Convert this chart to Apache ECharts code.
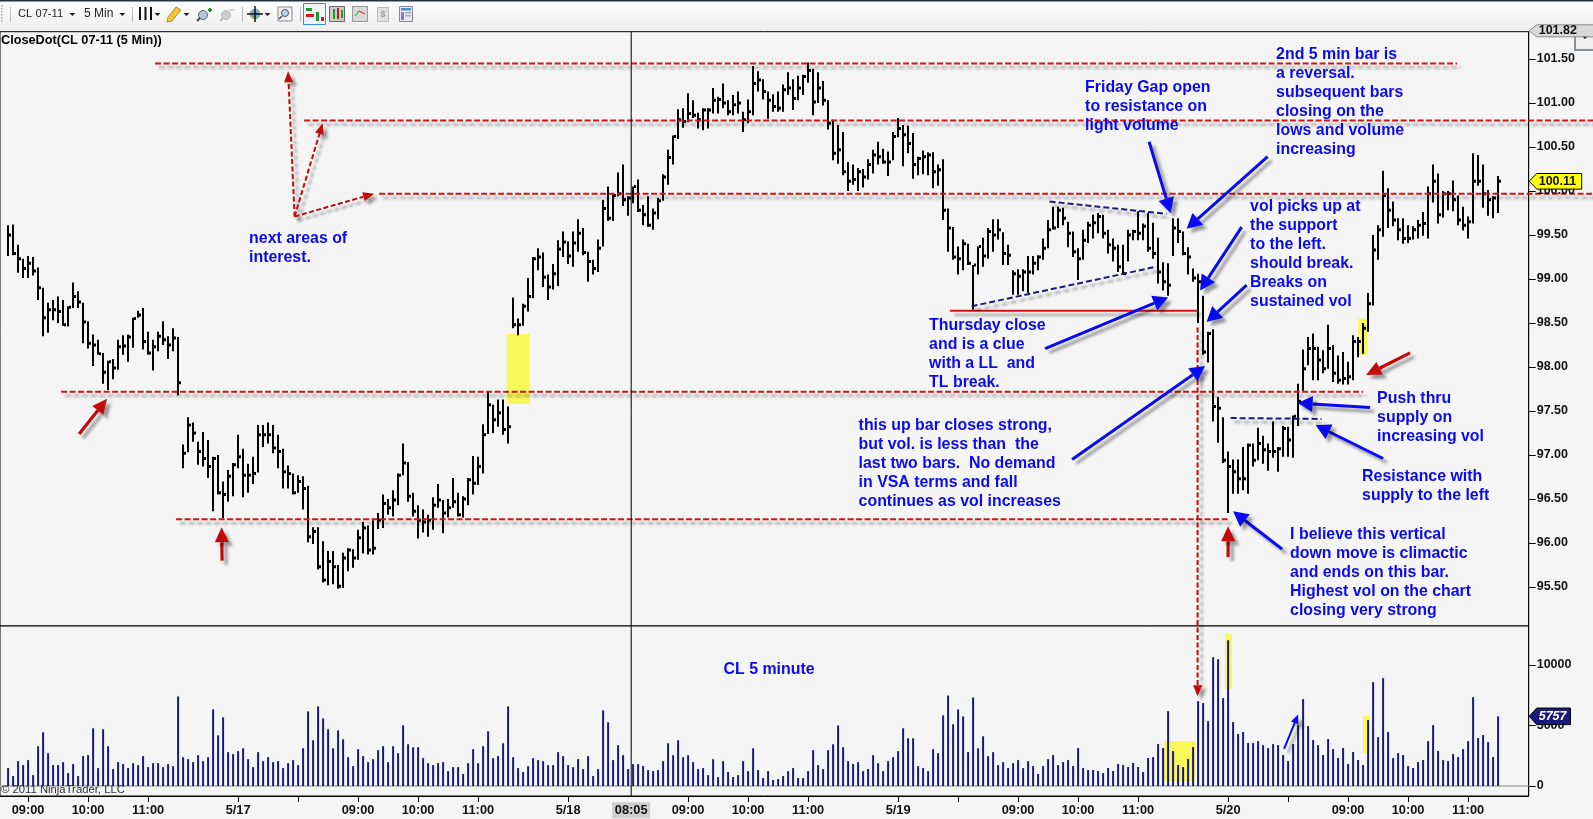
<!DOCTYPE html>
<html><head><meta charset="utf-8">
<script src="https://cdn.jsdelivr.net/npm/echarts@6/dist/echarts.min.js"></script>
<style>html,body{margin:0;padding:0;background:#f5f5f5;overflow:hidden}#c{width:1593px;height:819px}</style>
</head><body><div id="c"></div>
<script>
const barHigh=[99.61,99.62,99.39,99.23,99.26,99.25,99.13,98.90,98.73,98.76,
98.80,98.76,98.69,98.96,98.86,98.73,98.52,98.37,98.31,98.16,
98.07,98.09,98.31,98.36,98.37,98.56,98.64,98.67,98.40,98.31,
98.40,98.52,98.35,98.44,98.34,
97.12,97.43,97.37,97.15,97.26,97.17,96.98,97.00,96.70,96.83,96.91,97.23,97.07,96.90,96.98,
97.34,97.34,97.37,97.34,97.23,97.07,96.88,96.79,96.77,96.76,
96.65,96.18,96.18,96.02,95.91,95.91,95.75,95.89,95.94,95.93,
96.15,96.24,96.20,96.26,96.34,96.55,96.50,96.60,96.79,97.13,
96.92,96.57,96.43,96.38,96.32,96.52,96.67,96.49,96.50,96.74,
96.57,96.53,96.74,96.99,96.98,97.35,97.72,97.57,97.63,97.63,97.55,
98.79,98.55,98.72,99.01,99.25,99.35,99.30,99.05,99.17,99.44,
99.54,99.43,99.54,99.68,99.58,99.31,99.22,99.45,99.90,100.05,
99.97,100.21,100.30,99.94,100.05,100.13,99.84,99.94,99.80,99.92,
100.19,100.47,100.63,100.93,100.94,101.11,101.03,100.89,100.94,100.94,
101.17,101.07,101.22,101.03,101.09,101.13,100.90,101.04,101.42,101.36,
101.27,101.13,101.10,101.13,101.21,101.35,101.27,101.31,101.32,101.46,
101.39,101.35,101.25,101.03,100.81,100.75,100.67,100.33,100.30,100.26,
100.25,100.36,100.47,100.56,100.48,100.45,100.67,100.83,100.75,100.74,
100.66,100.39,100.46,100.44,100.44,100.30,100.36,
99.80,99.59,99.37,99.45,99.40,99.16,99.37,99.47,99.58,99.68,
99.68,99.53,99.39,99.10,99.11,99.11,99.26,99.26,99.27,99.46,
99.67,99.82,99.82,99.81,99.65,99.54,99.35,99.56,99.65,99.73,
99.75,99.73,99.56,99.46,99.39,99.39,99.56,99.56,99.77,99.63,
99.75,99.64,99.47,99.19,99.18,99.69,99.69,99.54,99.36,99.12,
99.06,98.81,98.40,98.43,97.66,97.43,97.04,96.95,96.95,97.09,
97.13,97.13,97.31,97.22,97.13,97.38,97.09,97.33,97.32,97.45,
97.81,98.20,98.34,98.38,98.23,98.19,98.48,98.25,98.13,98.17,
98.06,98.36,98.34,98.50,98.84,99.50,99.61,100.23,100.03,99.88,
99.69,99.69,99.61,99.60,99.67,99.76,100.05,100.30,100.20,100.00,
100.00,100.12,99.95,99.82,99.71,100.43,100.41,100.30,100.01,99.94,100.17];
const barLow=[99.26,99.27,99.07,99.01,99.01,99.04,98.76,98.35,98.39,98.53,
98.50,98.47,98.46,98.67,98.67,98.27,98.21,98.01,98.14,97.81,
97.74,97.86,97.97,98.14,98.06,98.22,98.56,98.20,98.14,97.96,
98.18,98.25,98.09,98.18,97.68,
96.85,97.03,97.15,96.89,96.87,96.74,96.36,96.55,96.28,96.47,96.53,96.85,96.52,96.57,96.67,
96.80,97.09,97.13,97.02,96.85,96.62,96.62,96.55,96.57,96.38,
96.01,95.99,95.70,95.55,95.52,95.53,95.48,95.49,95.68,95.72,
95.81,95.88,95.87,95.87,96.16,96.17,96.32,96.30,96.43,96.77,
96.47,96.30,96.05,96.12,96.07,96.15,96.40,96.11,96.29,96.40,
96.30,96.29,96.43,96.55,96.66,96.79,97.24,97.25,97.32,97.23,97.13,
98.44,98.36,98.47,98.63,98.78,99.10,98.91,98.76,98.88,98.92,
99.25,99.17,99.14,99.31,99.27,98.97,99.05,99.08,99.37,99.66,
99.66,99.94,99.83,99.72,99.86,99.76,99.61,99.59,99.56,99.68,
99.89,100.07,100.30,100.59,100.72,100.78,100.83,100.71,100.69,100.71,
100.88,100.88,100.94,100.86,100.86,100.88,100.67,100.77,100.86,101.13,
101.04,100.82,100.90,100.90,100.90,101.09,100.92,101.03,101.09,101.23,
100.86,101.00,100.97,100.70,100.35,100.31,100.18,100.00,100.07,100.00,
100.04,100.13,100.20,100.30,100.31,100.17,100.35,100.61,100.28,100.43,
100.14,100.18,100.19,100.18,100.03,100.06,99.67,
99.31,99.22,99.05,99.10,99.16,98.65,99.05,99.14,99.23,99.31,
99.45,99.16,99.16,98.82,98.82,98.86,98.84,99.05,99.10,99.22,
99.35,99.56,99.58,99.61,99.36,99.25,98.99,99.22,99.41,99.46,
99.52,99.46,99.29,99.20,99.08,99.05,99.20,99.44,99.44,99.44,
99.31,99.23,98.95,98.87,98.81,99.26,99.41,99.27,99.05,98.97,
98.50,98.14,98.05,97.38,97.14,96.91,96.34,96.56,96.56,96.60,
96.56,96.87,96.94,96.90,96.82,96.97,96.81,96.98,96.98,96.97,
97.33,97.73,98.02,97.85,97.85,97.93,97.98,97.83,97.81,97.80,
97.80,97.85,98.11,98.15,98.40,98.70,99.22,99.48,99.58,99.60,
99.44,99.40,99.41,99.45,99.46,99.49,99.46,99.87,99.63,99.70,
99.78,99.77,99.61,99.55,99.46,99.63,100.06,99.81,99.72,99.69,99.75];
const barClose=[99.50,99.29,99.23,99.12,99.18,99.09,98.90,98.56,98.65,98.65,
98.63,98.48,98.68,98.80,98.74,98.51,98.27,98.25,98.15,97.94,
98.06,97.99,98.23,98.24,98.34,98.55,98.59,98.29,98.16,98.23,
98.35,98.31,98.25,98.33,97.82,
97.02,97.34,97.25,97.04,96.96,96.87,96.96,96.57,96.55,96.76,96.89,96.98,96.77,96.77,96.79,
97.23,97.23,97.23,97.08,97.04,96.81,96.79,96.57,96.70,96.62,
96.07,96.13,95.73,95.58,95.79,95.73,95.51,95.83,95.92,95.83,
96.06,96.17,95.92,95.94,96.26,96.45,96.40,96.49,96.77,96.91,
96.53,96.36,96.26,96.24,96.26,96.43,96.49,96.34,96.40,96.47,
96.32,96.50,96.72,96.68,96.87,97.23,97.57,97.40,97.48,97.29,97.32,
98.48,98.48,98.69,98.80,99.23,99.25,99.02,98.91,99.06,99.34,
99.42,99.26,99.41,99.52,99.30,99.20,99.12,99.35,99.80,99.69,
99.95,99.97,99.90,99.92,100.05,99.78,99.73,99.61,99.75,99.89,
100.16,100.38,100.62,100.81,100.79,100.88,100.86,100.81,100.92,100.92,
101.03,101.04,101.00,100.90,100.98,101.00,100.81,100.90,101.22,101.26,
101.13,101.03,100.96,100.94,101.15,101.17,101.05,101.17,101.30,101.37,
101.01,101.17,101.03,100.77,100.43,100.47,100.22,100.11,100.13,100.22,
100.16,100.30,100.41,100.39,100.33,100.33,100.62,100.71,100.64,100.54,
100.30,100.37,100.39,100.41,100.22,100.24,99.78,
99.58,99.25,99.23,99.40,99.18,99.16,99.37,99.26,99.54,99.50,
99.56,99.29,99.27,99.06,99.03,99.08,99.08,99.18,99.25,99.35,
99.56,99.58,99.78,99.69,99.52,99.31,99.23,99.44,99.61,99.64,
99.71,99.52,99.39,99.35,99.14,99.06,99.50,99.54,99.52,99.60,
99.35,99.29,99.08,98.97,98.93,99.58,99.54,99.29,99.25,99.01,
98.97,98.17,98.38,97.55,97.53,96.94,96.87,96.81,96.73,96.73,
97.11,96.94,97.13,97.06,97.04,97.04,97.07,97.30,97.17,97.44,
97.61,97.98,98.21,98.21,98.08,97.98,98.21,97.93,97.85,97.87,
97.89,98.29,98.29,98.44,98.72,99.33,99.56,99.95,99.78,99.67,
99.56,99.46,99.46,99.56,99.61,99.63,99.97,100.11,99.73,99.97,
99.97,99.90,99.67,99.61,99.65,100.11,100.11,99.97,99.90,99.92,100.11];
const volume=[1480,820,2055,1725,2140,900,3290,4440,2710,1725,1725,1970,1070,1810,820,2470,2550,4770,1480,4690,3290,1400,1970,1810,1480,1890,1725,2470,1560,1890,1890,1560,1810,1640,7400,2380,2220,1970,2550,2055,2380,6330,4190,5670,2800,2630,2880,3120,2220,1560,2800,2055,2380,1970,2055,1480,1890,2140,1725,3120,6165,3780,6580,5590,4690,3120,4600,3860,2380,1640,3040,2470,1970,2220,2960,3290,1970,3290,2710,5010,3450,3205,3205,2300,1890,1725,1890,1970,1230,1560,1560,990,1890,3040,1890,3290,4520,2300,2470,3535,6580,2380,1480,1150,1640,
2300,2140,2055,1725,1725,2800,2470,1725,1560,2220,1400,2470,820,1400,6250,5260,2140,3370,2550,1400,1810,1810,1640,1315,1230,1315,2055,3535,2550,3780,2380,2550,1970,1400,1480,900,2220,740,2055,1150,740,900,2055,1230,3120,1315,660,1230,490,575,820,1230,1480,660,660,1230,2960,1725,1400,2960,3450,5010,3205,2055,1810,1970,1230,1400,2550,1890,1230,2055,2380,2880,4770,3945,3945,1640,1480,1230,3040,2710,5840,7480,5100,6330,5750,2800,7315,3120,4110,2470,2800,1725,1970,1480,1890,2140,1480,2055,1640,990,1640,2220,2550,1725,
1980,2145,1650,3135,1485,1320,1320,1240,1070,1485,1240,1815,1730,1570,1900,1570,1155,2310,2390,3465,3135,6190,2890,1730,1570,2230,3220,7010,6850,5360,10640,10480,7260,12045,5280,4290,4455,3550,3550,3710,3380,3135,3465,3380,2560,2060,3465,5030,7180,4950,3795,3380,2560,3880,3050,2310,3135,1815,2805,2145,1730,5445,8580,4040,8910,4455,2310,2720,2560,1650,1485,1980,2145,3710,5030,2890,2145,2060,2640,2390,3050,3710,7340,3960,4210,3630,2390,5757];
const xTickIndex=[4,16,28,46,58,70,82,94,112,136,148,160,178,190,202,214,226,244,256,268,280,292];
const xTickLabels=["09:00","10:00","11:00","5/17","","09:00","10:00","11:00","5/18","09:00","10:00","11:00","5/19","","09:00","10:00","11:00","5/20","","09:00","10:00","11:00"];
const crossIndex=124.62, crossLabel="08:05";
const priceTicks=[95.5,96,96.5,97,97.5,98,98.5,99,99.5,100,100.5,101,101.5];
const volumeTicks=[0,5000,10000];
// level lines: [from bar, to bar, price]
const levelLines=[[29.4,289.8,101.45],[59.2,317,100.80],[74.2,317,99.97],[10.6,271,97.72],[33.6,244.4,96.27]];
const thursdayClose=[188.4,237.9,98.64];
const trendLines=[[208.3,99.88,231.7,99.74],[192.7,98.69,229.7,99.14],[244.5,97.42,262.7,97.41]];
const thinRedArrows=[[57.3,99.71,56.0,101.36],[57.3,99.71,62.9,100.77],[57.3,99.71,73.2,99.97],[237.9,98.45,237.9,94.26]];
const redArrows=[[14.2,97.24,19.8,97.64],[42.8,95.80,42.7,96.18],[244,95.84,244,96.19],[280.4,98.16,271.6,97.91]];
const blueArrows=[[228.2,100.56,232.5,99.75],[251.9,100.39,235.7,99.57],[246.7,99.59,238.4,98.87],[247.7,98.93,239.7,98.51],[207.4,98.21,232.0,98.79],[212.8,96.95,239.4,98.01],[272.4,97.54,257.9,97.59],[275,96.96,261.5,97.34],[254.8,95.93,245,96.36]];
const smallBlueArrows=[[255.2,93.66,258,94.05]];
const priceHighlights=[[99.7,104.4,98.375,97.58],[270,271.9,98.55,98.14]];
const volumeHighlights=[[243.4,244.8,12550,8010],[231.2,237.4,3720,410],[271,272.3,5790,2730]];
const notes=[
[48.2,99.46,"next areas of\ninterest."],
[253.6,101.55,"2nd 5 min bar is\na reversal.\nsubsequent bars\nclosing on the\nlows and volume\nincreasing"],
[215.4,101.17,"Friday Gap open\nto resistance on\nlight volume"],
[248.4,99.82,"vol picks up at\nthe support\nto the left.\nshould break.\nBreaks on\nsustained vol"],
[184.2,98.47,"Thursday close\nand is a clue\nwith a LL  and\nTL break."],
[170.1,97.33,"this up bar closes strong,\nbut vol. is less than  the\nlast two bars.  No demand\nin VSA terms and fall\ncontinues as vol increases"],
[273.8,97.64,"Push thru\nsupply on\nincreasing vol"],
[270.8,96.75,"Resistance with\nsupply to the left"],
[256.4,96.10,"I believe this vertical\ndown move is climactic\nand ends on this bar.\nHighest vol on the chart\nclosing very strong"],
[143.1,94.56,"CL 5 minute"]];
const lastPrice=100.11, topPrice=101.82, lastVolume=5757;

const FONT='"Liberation Sans",Arial,sans-serif';
const RED='#cf1515', DARKRED='#c40a0a', BLUE='#0a0af0', NAVY='#1a1a7c', YELLOW='#f8f85a', BG='#f5f5f5';
const XMIN=-1.62, XMAX=304.12;
const AXFONT='bold 12.5px '+FONT;
const shadow={shadowBlur:3,shadowColor:'rgba(0,0,0,.38)',shadowOffsetX:4,shadowOffsetY:4};

function arrow(api,a,color,w,headL,headW,dash){
  const p0=api.coord([a[0],a[1]]),p1=api.coord([a[2],a[3]]);
  const dx=p1[0]-p0[0],dy=p1[1]-p0[1],L=Math.hypot(dx,dy),ux=dx/L,uy=dy/L;
  const b=[p1[0]-ux*headL,p1[1]-uy*headL];
  return [
   {type:'line',shape:{x1:p0[0],y1:p0[1],x2:b[0],y2:b[1]},style:Object.assign({stroke:color,lineWidth:w,lineDash:dash||null,fill:null},shadow)},
   {type:'polygon',shape:{points:[p1,[b[0]-uy*headW/2,b[1]+ux*headW/2],[b[0]+uy*headW/2,b[1]-ux*headW/2]]},style:Object.assign({fill:color},shadow)}
  ];
}
function rectOf(api,r){
  const a=api.coord([r[0],r[2]]),b=api.coord([r[1],r[3]]);
  return {type:'rect',shape:{x:a[0],y:a[1],width:b[0]-a[0],height:b[1]-a[1]},style:{fill:YELLOW}};
}
function one(render){return function(params,api){return params.dataIndex===0?{type:'group',children:render(api)}:null;};}
const ohlc=barHigh.map((h,i)=>[i,h,barLow[i],barClose[i]]);
const anchor=[[XMIN,barClose[0]]];

const option={
 animation:false,
 backgroundColor:BG,
 textStyle:{fontFamily:FONT},
 grid:[
  {left:0,top:31.7,width:1528.7,height:594.3,show:true,borderColor:'#000',borderWidth:1,backgroundColor:BG},
  {left:0,top:626,width:1528.7,height:170,show:true,borderColor:'#000',borderWidth:1,backgroundColor:BG}
 ],
 xAxis:[
  {type:'value',gridIndex:0,min:XMIN,max:XMAX,axisLabel:{show:false},axisTick:{show:false},splitLine:{show:false},axisLine:{show:false}},
  {type:'value',gridIndex:1,min:XMIN,max:XMAX,splitLine:{show:false},axisLine:{show:true,onZero:false,lineStyle:{color:'#000'}},
   axisTick:{show:true,length:6,customValues:xTickIndex,lineStyle:{color:'#000'}},
   axisLabel:{show:true,customValues:xTickIndex,margin:7.5,color:'#111',fontFamily:FONT,fontSize:12.8,fontWeight:'bold',hideOverlap:false,showMinLabel:true,showMaxLabel:true,
    formatter:v=>{ const k=xTickIndex.indexOf(Math.round(v)); return k>=0?xTickLabels[k]:''; }}}
 ],
 yAxis:[
  {type:'value',gridIndex:0,position:'right',min:95.057,max:101.81,splitLine:{show:false},axisLine:{show:true,onZero:false,lineStyle:{color:'#000'}},
   axisTick:{show:true,length:7,customValues:priceTicks,lineStyle:{color:'#000'}},
   axisLabel:{show:true,customValues:priceTicks.filter(v=>v!==100),margin:8,color:'#111',fontFamily:FONT,fontSize:12.5,fontWeight:'bold',formatter:v=>v.toFixed(2)}},
  {type:'value',gridIndex:1,position:'right',min:-826,max:13223,splitLine:{show:false},axisLine:{show:true,onZero:false,lineStyle:{color:'#000'}},
   axisTick:{show:true,length:7,customValues:volumeTicks,lineStyle:{color:'#000'}},
   axisLabel:{show:true,customValues:volumeTicks.filter(v=>v!==5000),margin:8,color:'#111',fontFamily:FONT,fontSize:12.5,fontWeight:'bold',formatter:v=>String(v)}}
 ],
 series:[
  {name:'highlights',type:'custom',xAxisIndex:0,yAxisIndex:0,clip:false,silent:true,z:1,data:anchor,
   renderItem:one(api=>priceHighlights.map(r=>rectOf(api,r)))},
  {name:'volumeHighlights',type:'custom',xAxisIndex:1,yAxisIndex:1,clip:false,silent:true,z:1,data:[[XMIN,0]],
   renderItem:one(api=>{const a=api.coord([XMIN,0]),b=api.coord([XMAX,0]);
     return volumeHighlights.map(r=>rectOf(api,r)).concat([{type:'line',shape:{x1:a[0],y1:a[1],x2:b[0],y2:b[1]},style:{stroke:'#aaa',lineWidth:1.5}}]);})},
  {name:'CL 07-11',type:'custom',xAxisIndex:0,yAxisIndex:0,clip:false,silent:true,z:3,data:ohlc,encode:{x:0,y:[1,2,3]},
   renderItem:(params,api)=>{
     const x=Math.round(api.coord([api.value(0),0])[0]);
     const yh=api.coord([0,api.value(1)])[1],yl=api.coord([0,api.value(2)])[1],yc=api.coord([0,api.value(3)])[1];
     return {type:'group',children:[
       {type:'rect',shape:{x:x-1,y:yh,width:2,height:yl-yh},style:{fill:'#000'}},
       {type:'rect',shape:{x:x+1,y:yc-1.5,width:2,height:3},style:{fill:'#000'}}]};
   }},
  {name:'Volume',type:'bar',xAxisIndex:1,yAxisIndex:1,barWidth:2,itemStyle:{color:NAVY},z:3,silent:true,data:volume.map((v,i)=>[i,v])},
  {name:'annotations',type:'custom',xAxisIndex:0,yAxisIndex:0,clip:false,silent:true,z:4,data:anchor,
   renderItem:one(api=>{
     let out=[];
     const hline=(l,stroke,w,dash)=>{const a=api.coord([l[0],l[2]]),b=api.coord([l[1],l[2]]);
       return {type:'line',shape:{x1:a[0],y1:a[1],x2:b[0],y2:b[1]},style:Object.assign({stroke:stroke,lineWidth:w,lineDash:dash},shadow)};};
     levelLines.forEach(l=>out.push(hline(l,RED,2,[6,2.5])));
     out.push(hline(thursdayClose,RED,2,null));
     trendLines.forEach(t=>{const a=api.coord([t[0],t[1]]),b=api.coord([t[2],t[3]]);
       out.push({type:'line',shape:{x1:a[0],y1:a[1],x2:b[0],y2:b[1]},style:Object.assign({stroke:NAVY,lineWidth:2,lineDash:[6,3]},shadow)});});
     thinRedArrows.forEach(a=>out=out.concat(arrow(api,a,DARKRED,2,11,9,[5,2.5])));
     redArrows.forEach(a=>out=out.concat(arrow(api,a,DARKRED,3.2,15,14)));
     blueArrows.forEach(a=>out=out.concat(arrow(api,a,BLUE,3,15,16)));
     smallBlueArrows.forEach(a=>out=out.concat(arrow(api,a,BLUE,2,9,8)));
     notes.forEach(n=>{const p=api.coord([n[0],n[1]]);
       n[2].split('\n').forEach((s,k)=>out.push({type:'text',x:p[0],y:p[1]+k*19,
         style:{text:s,fill:BLUE,font:'bold 15.9px '+FONT,textAlign:'left',textVerticalAlign:'middle',verticalAlign:'middle'}}));});
     // crosshair with its time label
     const c0=api.coord([crossIndex,101.81]),c1=api.coord([crossIndex,93.125]);
     out.push({type:'line',shape:{x1:c0[0],y1:c0[1],x2:c1[0],y2:c1[1]},style:{stroke:'#000',lineWidth:1}});
     out.push({type:'rect',shape:{x:c1[0]-19,y:c1[1]+6.3,width:38,height:16},style:{fill:'#cfcfcf'}});
     out.push({type:'text',x:c1[0],y:c1[1]+14.3,style:{text:crossLabel,fill:'#111',font:'bold 12.8px '+FONT,textAlign:'center',textVerticalAlign:'middle',verticalAlign:'middle'}});
     return out;
   })},
  {name:'priceTags',type:'custom',xAxisIndex:0,yAxisIndex:0,clip:false,silent:true,z:6,data:anchor,
   renderItem:one(api=>{
     const tag=(p,fill,stroke,txt,color,right,h,font,tx)=>{const c=api.coord([XMAX,p]);const x=c[0],y=c[1];
       return [{type:'polygon',shape:{points:[[x+.5,y],[x+8,y-h],[right,y-h],[right,y+h],[x+8,y+h]]},style:{fill:fill,stroke:stroke,lineWidth:1}},
               {type:'text',x:x+tx,y:y,style:{text:txt,fill:color,font:font,textAlign:'left',verticalAlign:'middle',textVerticalAlign:'middle'}}];};
     const hid=api.coord([XMAX,100]);
     return [{type:'text',x:hid[0]+8,y:hid[1],style:{text:'100.00',fill:'#111',font:AXFONT,textAlign:'left',verticalAlign:'middle',textVerticalAlign:'middle'}}]
       .concat(tag(topPrice,'#d9d9d9','#888',topPrice.toFixed(2),'#111',1600,6,AXFONT,10))
       .concat(tag(lastPrice,'#ffff00','#000',lastPrice.toFixed(2),'#111',1581.7,7.8,AXFONT,10));
   })},
  {name:'volumeTag',type:'custom',xAxisIndex:1,yAxisIndex:1,clip:false,silent:true,z:6,data:[[XMAX,lastVolume]],
   renderItem:one(api=>{const c=api.coord([XMAX,lastVolume]),x=c[0],y=c[1],h=8.3,hid=api.coord([XMAX,5000]);
     return [{type:'text',x:hid[0]+8,y:hid[1],style:{text:'5000',fill:'#111',font:AXFONT,textAlign:'left',verticalAlign:'middle',textVerticalAlign:'middle'}},
             {type:'polygon',shape:{points:[[x+.5,y],[x+8,y-h],[1570.5,y-h],[1570.5,y+h],[x+8,y+h]]},style:{fill:NAVY,stroke:'#000',lineWidth:1}},
             {type:'text',x:x+10,y:y,style:{text:String(lastVolume),fill:'#fff',font:'italic bold 12.5px '+FONT,textAlign:'left',verticalAlign:'middle',textVerticalAlign:'middle'}}];
   })}
 ],
 graphic:{elements:(function(){
  const g=[];
  const tri=(x,y)=>g.push({type:'polygon',shape:{points:[[x-3,y],[x+3,y],[x,y+3]]},style:{fill:'#222'}});
  const rect=(x,y,w,h,fill,stroke,lw)=>g.push({type:'rect',shape:{x,y,width:w,height:h},style:{fill:fill,stroke:stroke||null,lineWidth:lw||1}});
  const ln=(x1,y1,x2,y2,c,w)=>g.push({type:'line',shape:{x1,y1,x2,y2},style:{stroke:c,lineWidth:w||1}});
  g.push({type:'rect',shape:{x:0,y:0,width:1593,height:31},style:{fill:{type:'linear',x:0,y:0,x2:0,y2:1,colorStops:[{offset:0,color:'#ffffff'},{offset:1,color:'#eeeeee'}]}}});
  rect(0,0,1593,1.5,'#26323e');
  for(let y=5;y<22;y+=3) rect(1,y,1.5,1.5,'#aaa');
  ln(10.5,7,10.5,22,'#bbb');
  g.push({type:'text',x:18,y:14,style:{text:'CL 07-11',fill:'#222',font:'11.2px '+FONT,verticalAlign:'middle',textVerticalAlign:'middle'}});
  tri(72.3,13);
  g.push({type:'text',x:84,y:14,style:{text:'5 Min',fill:'#222',font:'12px '+FONT,verticalAlign:'middle',textVerticalAlign:'middle'}});
  tri(122.3,13); ln(132.5,7,132.5,22,'#bbb');
  [140,145.5,151].forEach(x=>rect(x-1,7,2,13,'#111'));
  tri(157.5,13);
  g.push({type:'polygon',shape:{points:[[176,7],[181,10],[172,21],[167,22],[168,17]]},style:{fill:'#f3c93a',stroke:'#8a6a14',lineWidth:.7}});
  tri(186.5,13);
  g.push({type:'circle',shape:{cx:203,cy:15,r:4.5},style:{fill:'#b9c4d0',stroke:'#667',lineWidth:1}});
  ln(200,18,197,21,'#444',2); ln(208,10,212,10,'#12a012',2); ln(210,8,210,12,'#12a012',2);
  g.push({type:'circle',shape:{cx:226,cy:15,r:4.5},style:{fill:'#ccc',stroke:'#bbb',lineWidth:1}});
  ln(223,18,220,21,'#bbb',2); ln(229,10,235,10,'#ccc',1.5);
  ln(242.5,7,242.5,22,'#bbb');
  g.push({type:'circle',shape:{cx:255,cy:14,r:5},style:{fill:'#6fa8dc',stroke:'#c9b23a',lineWidth:1}});
  ln(247,14,263,14,'#111',1.5); ln(255,6,255,22,'#111',1.5);
  tri(267.5,13);
  rect(278,7,14,14,'#f4f4f4','#888');
  g.push({type:'circle',shape:{cx:285,cy:13,r:3.5},style:{fill:'#bcd3ea',stroke:'#556',lineWidth:1}});
  ln(282,16,279,19,'#445',1.5);
  ln(300.5,7,300.5,22,'#bbb');
  rect(303.5,3.5,22,21,'#f0f6fc','#3a8fdc',1);
  rect(306,8,6,3,'#1c9a2a'); rect(306,14,8,3,'#d21818'); rect(316,12,3,9,'#1c9a2a'); rect(321,17,3,4,'#d21818');
  rect(329.5,6.5,15,15,'#ccc','#666');
  rect(333,9,2,10,'#1c9a2a'); rect(337,8,2,11,'#d21818'); rect(341,10,2,8,'#1c9a2a');
  rect(352.5,6.5,15,15,'#d8d8d8','#999');
  ln(355,16,359,11,'#1c9a2a',1); ln(359,11,365,14,'#d21818',1);
  rect(377.5,7.5,11,14,'#e2e2e2','#bbb');
  g.push({type:'text',x:383,y:15,style:{text:'$',fill:'#999',font:'bold 9px '+FONT,textAlign:'center',verticalAlign:'middle',textVerticalAlign:'middle'}});
  rect(399.5,6.5,13,15,'#e8e8f4','#889');
  rect(401,8,10,2.5,'#4a90d0'); rect(401,12,3,8,'#8a7ad0'); rect(405,12,6,1.5,'#aaa'); rect(405,15,6,1.5,'#aaa');
  g.push({type:'text',x:1,y:40.7,z:50,style:{text:'CloseDot(CL 07-11 (5 Min))',fill:'#000',font:'bold 12.7px '+FONT,verticalAlign:'middle',textVerticalAlign:'middle'}});
  g.push({type:'text',x:1,y:790.3,z:50,style:{text:'© 2011 NinjaTrader, LLC',fill:'#333',font:'11.3px '+FONT,verticalAlign:'middle',textVerticalAlign:'middle'}});
  rect(1575,28,20,22,'#efefef','#8a9199',2);
  g.push({type:'polygon',shape:{points:[[1581,35],[1589,35],[1585,39]]},style:{fill:'#000'}});
  return g;
 })()}
};
const chart=echarts.init(document.getElementById('c'),null,{renderer:'canvas'});
chart.setOption(option);
</script></body></html>
